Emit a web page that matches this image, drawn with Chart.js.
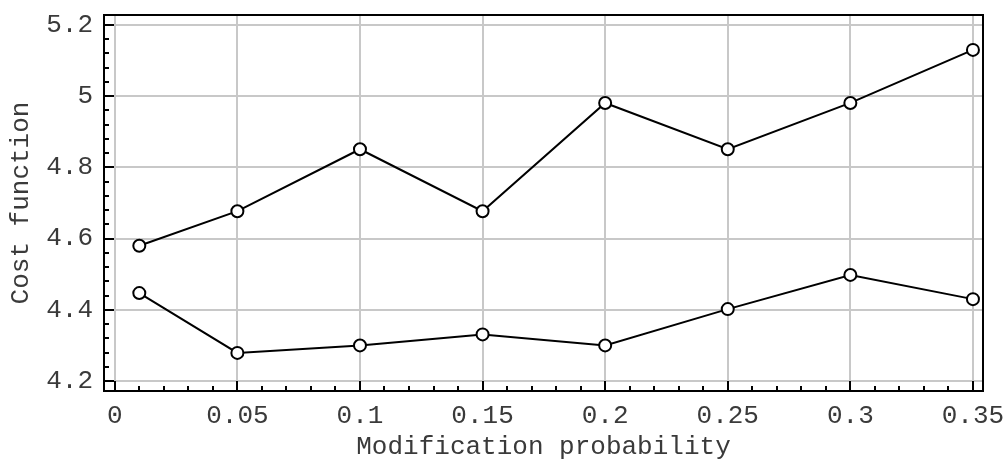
<!DOCTYPE html>
<html>
<head>
<meta charset="utf-8">
<script src="https://cdn.jsdelivr.net/npm/chart.js@4.4.1/dist/chart.umd.min.js"></script>
<style>
  html, body { margin: 0; padding: 0; background: #fff; }
  #wrap { width: 1006px; height: 471px; }
</style>
</head>
<body>
<div id="wrap"><canvas id="grafico"></canvas></div>
<script>
// probabilidades de modificação (eixo x)
const probs = [0.01, 0.05, 0.1, 0.15, 0.2, 0.25, 0.3, 0.35];

// valores da função de custo
const upperCost = [4.58, 4.677, 4.851, 4.677, 4.981, 4.851, 4.981, 5.13];
const lowerCost = [4.447, 4.279, 4.30, 4.331, 4.30, 4.402, 4.498, 4.43];

// ticks principais
const xTicks = [0, 0.05, 0.1, 0.15, 0.2, 0.25, 0.3, 0.35];
const yTicks = [4.2, 4.4, 4.6, 4.8, 5, 5.2];

const FONT = '"Liberation Mono", "Courier New", monospace';

// desenha a moldura e os ticks (maiores e menores) para dentro
const frameTicks = {
    id: 'frameTicks',
    afterDatasetsDraw(chart) {
        const ctx = chart.ctx;
        const a = chart.chartArea;
        const xs = chart.scales.x, ys = chart.scales.y;
        ctx.save();
        ctx.strokeStyle = '#000';
        ctx.lineWidth = 2;
        ctx.beginPath();
        // x: menores a cada 0.01
        for (let i = 0; i <= 35; i++) {
            const px = Math.round(xs.getPixelForValue(i / 100));
            const len = (i % 5 === 0) ? 10 : 5;
            ctx.moveTo(px, a.bottom);
            ctx.lineTo(px, a.bottom - len);
        }
        // y: menores a cada 0.04
        for (let i = 0; i <= 25; i++) {
            const py = Math.round(ys.getPixelForValue(4.2 + i * 0.04));
            const len = (i % 5 === 0) ? 10 : 5;
            ctx.moveTo(a.left, py);
            ctx.lineTo(a.left + len, py);
        }
        ctx.stroke();
        ctx.strokeRect(a.left, a.top, a.right - a.left, a.bottom - a.top);
        ctx.restore();
    }
};

// sem folga extra por causa dos rótulos que passam da área
const semFolga = s => {
    s.paddingLeft = 0; s.paddingRight = 0;
    s.paddingTop = 0; s.paddingBottom = 0;
};

const ctx = document.getElementById('grafico').getContext('2d');

const serie = (vals) => ({
    data: probs.map((p, i) => ({ x: p, y: vals[i] })),
    borderColor: '#000',
    borderWidth: 2,
    pointRadius: 6,
    pointBackgroundColor: '#fff',
    pointBorderColor: '#000',
    pointBorderWidth: 2,
    tension: 0,
    fill: false
});

new Chart(ctx, {
    type: 'line',
    data: {
        datasets: [serie(upperCost), serie(lowerCost)]
    },
    options: {
        responsive: true,
        maintainAspectRatio: false,
        animation: false,
        layout: { padding: { top: 15, right: 23, left: 0, bottom: 0 } },
        plugins: {
            legend: { display: false },
            tooltip: { enabled: false }
        },
        scales: {
            x: {
                type: 'linear',
                min: -0.0044,
                max: 0.3541,
                afterBuildTicks: s => { s.ticks = xTicks.map(v => ({ value: v })); },
                afterFit: s => { s.height = 80; semFolga(s); },
                grid: { color: '#c8c8c8', lineWidth: 2, drawTicks: false },
                border: { display: false },
                ticks: {
                    padding: 10,
                    color: '#3a3a3a',
                    font: { family: FONT, size: 26 },
                    maxRotation: 0,
                    autoSkip: false,
                    callback: v => String(v)
                },
                title: {
                    display: true,
                    text: 'Modification probability',
                    color: '#3a3a3a',
                    font: { family: FONT, size: 26 },
                    padding: { top: 0, bottom: 8 }
                }
            },
            y: {
                type: 'linear',
                min: 4.172,
                max: 5.228,
                afterBuildTicks: s => { s.ticks = yTicks.map(v => ({ value: v })); },
                afterFit: s => { s.width = 104; semFolga(s); },
                grid: { color: '#c8c8c8', lineWidth: 2, drawTicks: false },
                border: { display: false },
                ticks: {
                    padding: 11,
                    color: '#3a3a3a',
                    font: { family: FONT, size: 26 },
                    autoSkip: false,
                    callback: v => String(v)
                },
                title: {
                    display: true,
                    text: 'Cost function',
                    color: '#3a3a3a',
                    font: { family: FONT, size: 26 },
                    padding: { top: 6, bottom: 0 }
                }
            }
        }
    },
    plugins: [frameTicks]
});
</script>
</body>
</html>
